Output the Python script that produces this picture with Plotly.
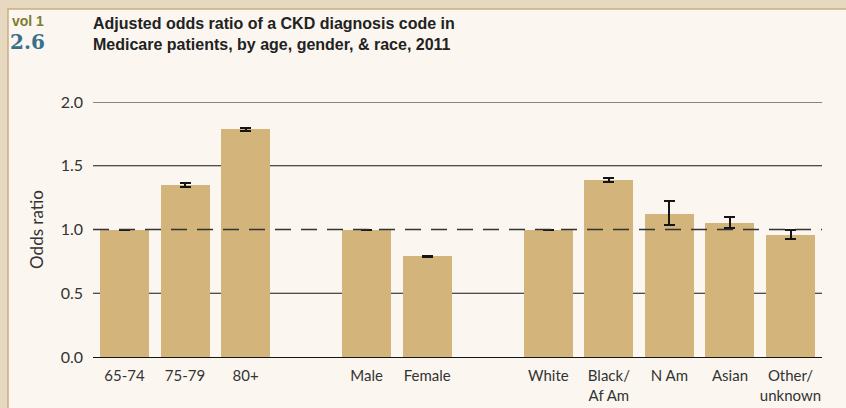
import plotly.graph_objects as go

# ---- data ----
categories = ["65-74", "75-79", "80+", "Male", "Female",
              "White", "Black/<br>Af Am", "N Am", "Asian", "Other/<br>unknown"]
slots = [0, 1, 2, 4, 5, 7, 8, 9, 10, 11]
odds = [1.00, 1.35, 1.785, 1.00, 0.79, 1.00, 1.385, 1.12, 1.05, 0.957]
err_upper = [1.00, 1.365, 1.80, 1.00, 0.795, 1.00, 1.405, 1.22, 1.096, 0.993]
err_lower = [1.00, 1.335, 1.77, 1.00, 0.785, 1.00, 1.37, 1.033, 1.01, 0.927]
y_ticks = [0.0, 0.5, 1.0, 1.5, 2.0]
y_tick_text = ["0.0", "0.5", "1.0", "1.5", "2.0"]
reference_line = 1.0
solid_grid = [0.5, 1.5, 2.0]

BAR = "#d3b57c"
INK = "#151515"

plus = [u - v for u, v in zip(err_upper, odds)]
minus = [v - l for v, l in zip(odds, err_lower)]

fig = go.Figure()
fig.add_trace(go.Bar(
    x=slots, y=odds, width=0.81,
    marker=dict(color=BAR, line=dict(width=0)),
    error_y=dict(type="data", symmetric=False, array=plus, arrayminus=minus,
                 color=INK, thickness=2, width=5.5),
    hoverinfo="skip",
))

shapes = []
# cream panel
shapes.append(dict(type="rect", xref="paper", yref="paper",
                   x0=-0.1166, x1=1.3, y0=-0.5, y1=1.3647,
                   fillcolor="#fbf7f0", line=dict(color="#c9ad86", width=1.5),
                   layer="below"))
for g in solid_grid:
    shapes.append(dict(type="line", xref="paper", yref="y", x0=0, x1=1, y0=g, y1=g,
                       line=dict(color=INK, width=1.2), layer="below"))
shapes.append(dict(type="line", xref="paper", yref="y", x0=0, x1=1,
                   y0=reference_line, y1=reference_line,
                   line=dict(color="#333", width=1.5, dash="16px,10px"), layer="above"))

annotations = [
    dict(xref="paper", yref="paper", x=-0.003, y=1.35, xanchor="left", yanchor="top",
         align="left", showarrow=False,
         text="<b>Adjusted odds ratio of a CKD diagnosis code in<br>Medicare patients, by age, gender, &amp; race, 2011</b>",
         font=dict(family="Liberation Sans Narrow, Arial Narrow, sans-serif", size=16, color="#222")),
    dict(xref="paper", yref="paper", x=-0.114, y=1.355, xanchor="left", yanchor="top",
         showarrow=False, text="<b>vol 1</b>",
         font=dict(family="Liberation Sans Narrow, sans-serif", size=14, color="#7d7d2d")),
    dict(xref="paper", yref="paper", x=-0.117, y=1.29, xanchor="left", yanchor="top",
         showarrow=False, text="<b>2.6</b>",
         font=dict(family="DejaVu Serif, serif", size=20, color="#3a6f8c")),
]

fig.update_layout(
    width=846, height=408,
    margin=dict(l=93, r=24, t=102, b=51),
    paper_bgcolor="#e7d9c0",
    plot_bgcolor="rgba(0,0,0,0)",
    showlegend=False,
    bargap=0,
    shapes=shapes,
    annotations=annotations,
    font=dict(family="Lato, Open Sans, sans-serif", color="#333"),
)
fig.update_xaxes(
    range=[-0.52, 11.52], tickvals=slots, ticktext=categories, automargin=False,
    showgrid=False, zeroline=False, showline=True, linecolor=INK, linewidth=1.2,
    ticks="", tickfont=dict(size=15, color="#333"), ticklabelstandoff=5,
)
fig.update_yaxes(
    range=[0, 2.0], tickvals=y_ticks, ticktext=y_tick_text, automargin=False,
    showgrid=False, zeroline=False, showline=False, ticks="",
    tickfont=dict(size=16, color="#333"), ticklabelstandoff=9,
    title=dict(text="Odds ratio", font=dict(size=17, color="#333"), standoff=12),
)

fig.write_html("out.html", config={"displayModeBar": False},
               post_script="document.body.style.margin='0';document.body.style.background='#e7d9c0';")
